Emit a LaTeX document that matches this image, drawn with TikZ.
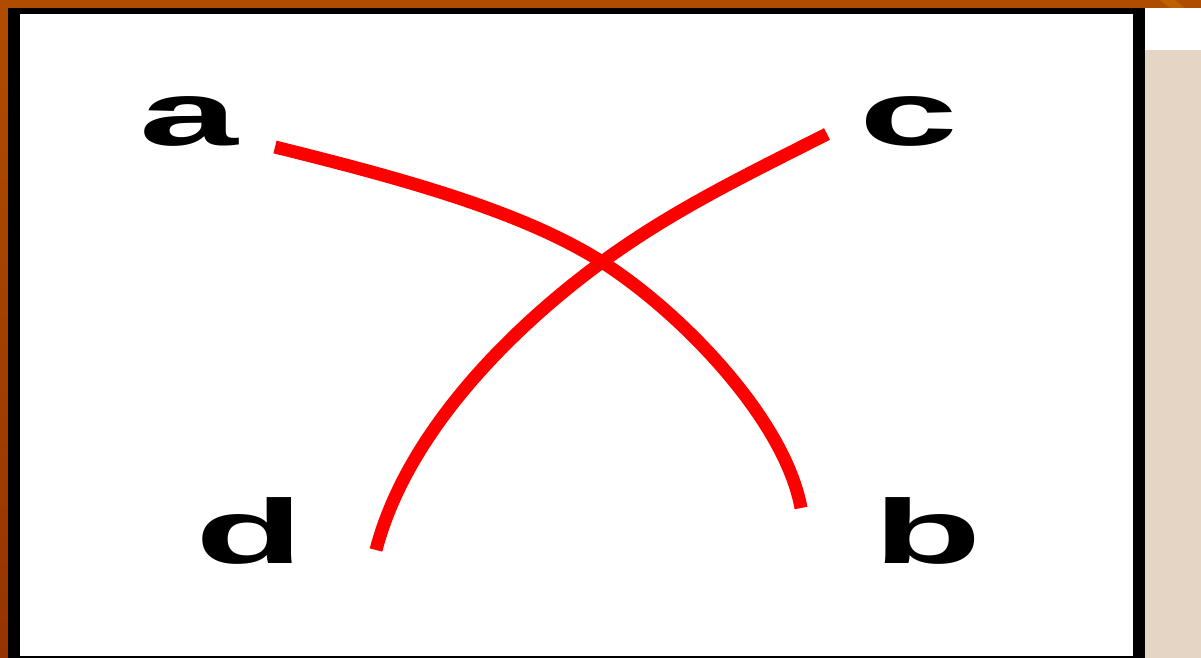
\documentclass[tikz,border=0pt]{standalone}
\usepackage{fontspec}
\setmainfont{Liberation Sans}
\definecolor{bgorange}{RGB}{176,76,0}
\definecolor{bgdark}{RGB}{150,52,0}
\definecolor{streak}{RGB}{196,110,0}
\definecolor{beige}{RGB}{229,213,197}
\tikzset{
  letter/.style={anchor=base, inner sep=0pt, font=\bfseries\fontsize{91}{91}\selectfont},
  redcurve/.style={draw=red, line width=13pt, line cap=butt}
}
\newcommand{\wide}[1]{\scalebox{1.95}[1]{#1}}
\begin{document}
\begin{tikzpicture}[x=1pt,y=-1pt]
\useasboundingbox (0,0) rectangle (1201,658);
\shade[top color=bgorange, bottom color=bgdark] (0,0) rectangle (1201,658);
\fill[streak, opacity=0.6] (1160,0) -- (1175,0) -- (1185,8) -- (1170,8) -- cycle;
\fill[black] (8,8) rectangle (1145,658);
\fill[white] (20,14) rectangle (1133,656);
\fill[white] (1145,8) rectangle (1201,50);
\fill[beige] (1145,50) rectangle (1201,658);
\node[letter] (a) at (189,145) {\wide{a}};
\node[letter] (c) at (909,145) {\wide{c}};
\node[letter] (d) at (250,563) {\wide{d}};
\node[letter] (b) at (928,563) {\wide{b}};
\coordinate (a1) at (275,147);
\coordinate (b1) at (801,508);
\coordinate (c1) at (827,134);
\coordinate (d1) at (376,550);
\coordinate (x) at (602,262);
\draw[redcurve] (a1) .. controls (400,178) and (522,211) .. (x)
  .. controls (682,313) and (785,420) .. (b1);
\draw[redcurve] (c1) .. controls (740,178) and (672,211) .. (x)
  .. controls (532,313) and (410,420) .. (d1);
\end{tikzpicture}
\end{document}
